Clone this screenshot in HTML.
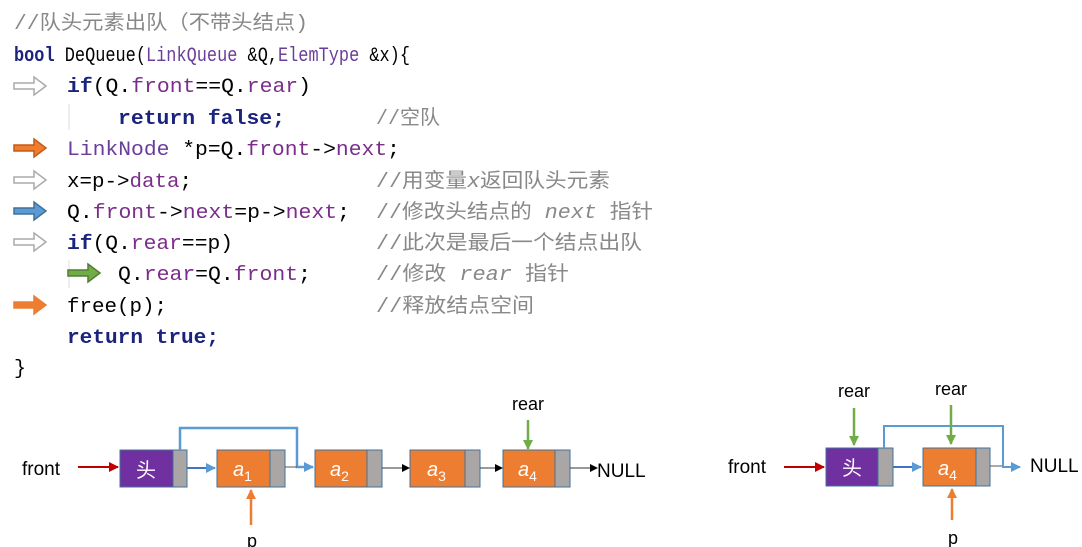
<!DOCTYPE html><html><head><meta charset="utf-8"><style>body{margin:0;background:#fff}svg{display:block}</style></head><body>
<svg width="1082" height="547" viewBox="0 0 1082 547" xmlns="http://www.w3.org/2000/svg">
<defs>
<marker id="mk" markerWidth="8" markerHeight="8" refX="7" refY="4" orient="auto" markerUnits="userSpaceOnUse"><path d="M0,0L8,4L0,8z" fill="#000"/></marker>
<marker id="mr" markerWidth="10" markerHeight="10" refX="9" refY="5" orient="auto" markerUnits="userSpaceOnUse"><path d="M0,0L10,5L0,10z" fill="#c00000"/></marker>
<marker id="mb" markerWidth="10" markerHeight="10" refX="9" refY="5" orient="auto" markerUnits="userSpaceOnUse"><path d="M0,0L10,5L0,10z" fill="#5b9bd5"/></marker>
<marker id="mg" markerWidth="10" markerHeight="10" refX="9" refY="5" orient="auto" markerUnits="userSpaceOnUse"><path d="M0,0L10,5L0,10z" fill="#70ad47"/></marker>
<marker id="mo" markerWidth="10" markerHeight="10" refX="9" refY="5" orient="auto" markerUnits="userSpaceOnUse"><path d="M0,0L10,5L0,10z" fill="#ed7d31"/></marker>
</defs>
<g font-family="Liberation Mono, Noto Sans CJK SC, monospace" font-size="20">
<text x="14" y="29" fill="#888" textLength="294" lengthAdjust="spacingAndGlyphs">//队头元素出队（不带头结点)</text>
<text x="14" y="61" textLength="396" lengthAdjust="spacingAndGlyphs"><tspan fill="#1a237e" font-weight="bold">bool</tspan> DeQueue(<tspan fill="#6a3d9a">LinkQueue</tspan> &amp;Q,<tspan fill="#6a3d9a">ElemType</tspan> &amp;x){</text>
<text x="67" y="92" textLength="244" lengthAdjust="spacingAndGlyphs"><tspan fill="#1a237e" font-weight="bold">if</tspan>(Q.<tspan fill="#7b2d8b">front</tspan>==Q.<tspan fill="#7b2d8b">rear</tspan>)</text>
<line x1="69" y1="104" x2="69" y2="130" stroke="#ddd"/>
<text x="118" y="124" fill="#1a237e" font-weight="bold" textLength="167" lengthAdjust="spacingAndGlyphs">return false;</text>
<text x="376" y="124" fill="#888">//空队</text>
<text x="67" y="155" textLength="333" lengthAdjust="spacingAndGlyphs"><tspan fill="#6a3d9a">LinkNode</tspan> *p=Q.<tspan fill="#7b2d8b">front</tspan>-&gt;<tspan fill="#7b2d8b">next</tspan>;</text>
<text x="67" y="187" textLength="125" lengthAdjust="spacingAndGlyphs">x=p-&gt;<tspan fill="#7b2d8b">data</tspan>;</text>
<text x="376" y="187" fill="#888" textLength="234" lengthAdjust="spacingAndGlyphs">//用变量<tspan font-style="italic">x</tspan>返回队头元素</text>
<text x="67" y="218" textLength="283" lengthAdjust="spacingAndGlyphs">Q.<tspan fill="#7b2d8b">front</tspan>-&gt;<tspan fill="#7b2d8b">next</tspan>=p-&gt;<tspan fill="#7b2d8b">next</tspan>;</text>
<text x="376" y="218" fill="#888" textLength="277" lengthAdjust="spacingAndGlyphs">//修改头结点的 <tspan font-style="italic">next</tspan> 指针</text>
<text x="67" y="249" textLength="166" lengthAdjust="spacingAndGlyphs"><tspan fill="#1a237e" font-weight="bold">if</tspan>(Q.<tspan fill="#7b2d8b">rear</tspan>==p)</text>
<text x="376" y="249" fill="#888" textLength="266" lengthAdjust="spacingAndGlyphs">//此次是最后一个结点出队</text>
<line x1="69" y1="260" x2="69" y2="288" stroke="#ddd"/>
<text x="118" y="280" textLength="193" lengthAdjust="spacingAndGlyphs">Q.<tspan fill="#7b2d8b">rear</tspan>=Q.<tspan fill="#7b2d8b">front</tspan>;</text>
<text x="376" y="280" fill="#888" textLength="193" lengthAdjust="spacingAndGlyphs">//修改 <tspan font-style="italic">rear</tspan> 指针</text>
<text x="67" y="312" textLength="100" lengthAdjust="spacingAndGlyphs">free(p);</text>
<text x="376" y="312" fill="#888" textLength="158" lengthAdjust="spacingAndGlyphs">//释放结点空间</text>
<text x="67" y="343" fill="#1a237e" font-weight="bold" textLength="152" lengthAdjust="spacingAndGlyphs">return true;</text>
<text x="14" y="374">}</text>
</g>
<!-- code arrows -->
<g stroke-width="1.5">
<path d="M14,83h20v-6l12,9l-12,9v-6h-20z" fill="#fff" stroke="#aaa"/>
<path d="M14,145h20v-6l12,9l-12,9v-6h-20z" fill="#ed7d31" stroke="#c55a11"/>
<path d="M14,177h20v-6l12,9l-12,9v-6h-20z" fill="#fff" stroke="#aaa"/>
<path d="M14,208h20v-6l12,9l-12,9v-6h-20z" fill="#5b9bd5" stroke="#41719c"/>
<path d="M14,239h20v-6l12,9l-12,9v-6h-20z" fill="#fff" stroke="#aaa"/>
<path d="M68,270h20v-6l12,9l-12,9v-6h-20z" fill="#70ad47" stroke="#507e32"/>
<path d="M14,302h20v-6l12,9l-12,9v-6h-20z" fill="#ed7d31" stroke="#ed7d31"/>
</g>
<!-- diagram 1 -->
<g font-family="Liberation Sans, Noto Sans CJK SC, sans-serif">
<text x="22" y="475" font-size="19">front</text>
<line x1="78" y1="467" x2="118" y2="467" stroke="#c00000" stroke-width="2" marker-end="url(#mr)"/>
<rect x="120" y="450" width="53" height="37" fill="#7030a0" stroke="#41719c"/>
<rect x="173" y="450" width="14" height="37" fill="#aaa6a6" stroke="#41719c"/>
<text x="146" y="477" font-size="20" fill="#fff" text-anchor="middle">头</text>
<g stroke="#41719c"><rect x="217" y="450" width="53" height="37" fill="#ed7d31"/><rect x="270" y="450" width="15" height="37" fill="#aaa6a6"/>
<rect x="315" y="450" width="52" height="37" fill="#ed7d31"/><rect x="367" y="450" width="15" height="37" fill="#aaa6a6"/>
<rect x="410" y="450" width="55" height="37" fill="#ed7d31"/><rect x="465" y="450" width="15" height="37" fill="#aaa6a6"/>
<rect x="503" y="450" width="52" height="37" fill="#ed7d31"/><rect x="555" y="450" width="15" height="37" fill="#aaa6a6"/></g>
<g fill="#fff" font-size="20" font-style="italic"><text x="233" y="476">a<tspan font-size="14" font-style="normal" dy="5">1</tspan></text>
<text x="330" y="476">a<tspan font-size="14" font-style="normal" dy="5">2</tspan></text>
<text x="427" y="476">a<tspan font-size="14" font-style="normal" dy="5">3</tspan></text>
<text x="518" y="476">a<tspan font-size="14" font-style="normal" dy="5">4</tspan></text></g>
<line x1="187" y1="468" x2="215" y2="468" stroke="#4472c4" stroke-width="2" marker-end="url(#mb)"/>
<path d="M180,450V428H297V467H313" fill="none" stroke="#5b9bd5" stroke-width="2.5" marker-end="url(#mb)"/>
<line x1="285" y1="467" x2="297" y2="467" stroke="#555"/>
<line x1="382" y1="468" x2="409" y2="468" stroke="#333" marker-end="url(#mk)"/>
<line x1="480" y1="468" x2="502" y2="468" stroke="#333" marker-end="url(#mk)"/>
<line x1="570" y1="468" x2="597" y2="468" stroke="#333" marker-end="url(#mk)"/>
<text x="597" y="477" font-size="19">NULL</text>
<text x="528" y="410" font-size="18" text-anchor="middle">rear</text>
<line x1="528" y1="420" x2="528" y2="449" stroke="#70ad47" stroke-width="2.5" marker-end="url(#mg)"/>
<line x1="251" y1="525" x2="251" y2="490" stroke="#ed7d31" stroke-width="2.5" marker-end="url(#mo)"/>
<text x="252" y="547" font-size="18" text-anchor="middle">p</text>
<!-- diagram 2 -->
<text x="728" y="473" font-size="19">front</text>
<line x1="784" y1="467" x2="824" y2="467" stroke="#c00000" stroke-width="2" marker-end="url(#mr)"/>
<rect x="826" y="448" width="52" height="38" fill="#7030a0" stroke="#41719c"/>
<rect x="878" y="448" width="15" height="38" fill="#aaa6a6" stroke="#41719c"/>
<text x="852" y="475" font-size="20" fill="#fff" text-anchor="middle">头</text>
<rect x="923" y="448" width="53" height="38" fill="#ed7d31" stroke="#41719c"/>
<rect x="976" y="448" width="14" height="38" fill="#aaa6a6" stroke="#41719c"/>
<text x="938" y="475" fill="#fff" font-size="20" font-style="italic">a<tspan font-size="14" font-style="normal" dy="5">4</tspan></text>
<line x1="893" y1="467" x2="921" y2="467" stroke="#4472c4" stroke-width="2" marker-end="url(#mb)"/>
<line x1="990" y1="466" x2="1003" y2="466" stroke="#555"/>
<path d="M884,448V426H1003V467H1020" fill="none" stroke="#5b9bd5" stroke-width="2" marker-end="url(#mb)"/>
<text x="1030" y="472" font-size="19">NULL</text>
<text x="854" y="397" font-size="18" text-anchor="middle">rear</text>
<line x1="854" y1="408" x2="854" y2="445" stroke="#70ad47" stroke-width="2.5" marker-end="url(#mg)"/>
<text x="951" y="395" font-size="18" text-anchor="middle">rear</text>
<line x1="951" y1="405" x2="951" y2="444" stroke="#70ad47" stroke-width="2.5" marker-end="url(#mg)"/>
<line x1="952" y1="520" x2="952" y2="489" stroke="#ed7d31" stroke-width="2.5" marker-end="url(#mo)"/>
<text x="953" y="544" font-size="18" text-anchor="middle">p</text>
</g>
</svg></body></html>
